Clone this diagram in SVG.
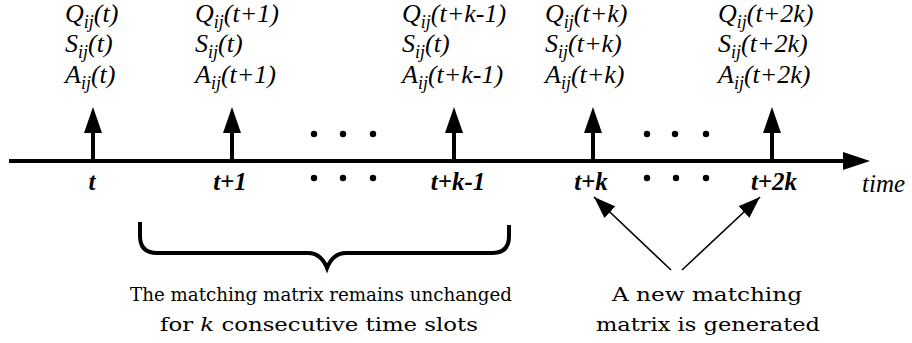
<svg xmlns="http://www.w3.org/2000/svg" width="912" height="343" viewBox="0 0 912 343">
<style>
.lab{font-family:'Liberation Serif','Tinos','Times New Roman','Times','Nimbus Roman','Nimbus Roman No9 L','FreeSerif','Noto Serif','DejaVu Serif',serif;font-style:italic;font-size:26px;fill:#000}
.sub{font-size:18px}
.tick{font-family:'Liberation Serif','Tinos','Times New Roman','Times','Nimbus Roman','FreeSerif','Noto Serif','DejaVu Serif',serif;font-style:italic;font-weight:bold;font-size:25px;fill:#000;text-anchor:middle}
.time{font-family:'Liberation Serif','Tinos','Times New Roman','Times','Nimbus Roman','FreeSerif','Noto Serif','DejaVu Serif',serif;font-style:italic;font-size:25px;fill:#000}
.note{font-family:'Century Schoolbook L','C059','New Century Schoolbook','DejaVu Serif','Noto Serif','Liberation Serif','Georgia',serif;font-size:19px;fill:#000;text-anchor:middle}
.stem{stroke:#000;stroke-width:4;fill:none}
.thin{stroke:#000;stroke-width:1.6;fill:none}
</style>
<defs>
<marker id="ah2" viewBox="0 0 22 16" refX="22" refY="8" markerWidth="22" markerHeight="16" markerUnits="userSpaceOnUse" orient="auto">
<path d="M0,0 L22,8 L0,16 Z" fill="#000"/>
</marker>
</defs>

<g id="axis">
<line class="stem" x1="9" y1="161" x2="846" y2="161"/>
<polygon points="843,152 870,161 843,170" fill="#000"/>
<text class="time" x="862" y="192">time</text>
</g>

<g id="slot-t">
<line class="stem" x1="93" y1="161" x2="93" y2="130"/>
<polygon points="84,133 93,107 102,133" fill="#000"/>
<text class="tick" x="92" y="190">t</text>
<text class="lab" x="65" y="22">Q<tspan class="sub" dy="6">ij</tspan><tspan dy="-6">(t)</tspan></text>
<text class="lab" x="65" y="52">S<tspan class="sub" dy="6">ij</tspan><tspan dy="-6">(t)</tspan></text>
<text class="lab" x="65" y="83">A<tspan class="sub" dy="6">ij</tspan><tspan dy="-6">(t)</tspan></text>
</g>

<g id="slot-t1">
<line class="stem" x1="232" y1="161" x2="232" y2="130"/>
<polygon points="223,133 232,107 241,133" fill="#000"/>
<text class="tick" x="230" y="190">t+1</text>
<text class="lab" x="195" y="22">Q<tspan class="sub" dy="6">ij</tspan><tspan dy="-6">(t+1)</tspan></text>
<text class="lab" x="195" y="52">S<tspan class="sub" dy="6">ij</tspan><tspan dy="-6">(t)</tspan></text>
<text class="lab" x="195" y="83">A<tspan class="sub" dy="6">ij</tspan><tspan dy="-6">(t+1)</tspan></text>
</g>

<g id="slot-tk1">
<line class="stem" x1="454" y1="161" x2="454" y2="130"/>
<polygon points="445,133 454,107 463,133" fill="#000"/>
<text class="tick" x="458" y="190">t+k-1</text>
<text class="lab" x="402" y="22">Q<tspan class="sub" dy="6">ij</tspan><tspan dy="-6">(t+k-1)</tspan></text>
<text class="lab" x="402" y="52">S<tspan class="sub" dy="6">ij</tspan><tspan dy="-6">(t)</tspan></text>
<text class="lab" x="402" y="83">A<tspan class="sub" dy="6">ij</tspan><tspan dy="-6">(t+k-1)</tspan></text>
</g>

<g id="slot-tk">
<line class="stem" x1="593" y1="161" x2="593" y2="130"/>
<polygon points="584,133 593,107 602,133" fill="#000"/>
<text class="tick" x="591" y="190">t+k</text>
<text class="lab" x="545" y="22">Q<tspan class="sub" dy="6">ij</tspan><tspan dy="-6">(t+k)</tspan></text>
<text class="lab" x="545" y="52">S<tspan class="sub" dy="6">ij</tspan><tspan dy="-6">(t+k)</tspan></text>
<text class="lab" x="545" y="83">A<tspan class="sub" dy="6">ij</tspan><tspan dy="-6">(t+k)</tspan></text>
</g>

<g id="slot-t2k">
<line class="stem" x1="772" y1="161" x2="772" y2="130"/>
<polygon points="763,133 772,107 781,133" fill="#000"/>
<text class="tick" x="774" y="190">t+2k</text>
<text class="lab" x="718" y="22">Q<tspan class="sub" dy="6">ij</tspan><tspan dy="-6">(t+2k)</tspan></text>
<text class="lab" x="718" y="52">S<tspan class="sub" dy="6">ij</tspan><tspan dy="-6">(t+2k)</tspan></text>
<text class="lab" x="718" y="83">A<tspan class="sub" dy="6">ij</tspan><tspan dy="-6">(t+2k)</tspan></text>
</g>

<g id="dots" fill="#000">
<circle cx="314" cy="134" r="3.2"/><circle cx="343" cy="134" r="3.2"/><circle cx="373" cy="134" r="3.2"/>
<circle cx="314" cy="178" r="3.2"/><circle cx="343" cy="178" r="3.2"/><circle cx="373" cy="178" r="3.2"/>
<circle cx="647" cy="134" r="3.2"/><circle cx="675" cy="134" r="3.2"/><circle cx="706" cy="134" r="3.2"/>
<circle cx="647" cy="178" r="3.2"/><circle cx="676" cy="178" r="3.2"/><circle cx="706" cy="178" r="3.2"/>
</g>

<g id="brace-note">
<path class="stem" d="M140,222 V236 Q140,253 157,253 H308 Q321,253 327,268 Q333,253 346,253 H492 Q509,253 509,236 V225"/>
<text class="note" x="321" y="301" textLength="382" lengthAdjust="spacingAndGlyphs">The matching matrix remains unchanged</text>
<text class="note" x="319" y="331" textLength="318" lengthAdjust="spacingAndGlyphs">for <tspan font-style="italic">k</tspan> consecutive time slots</text>
</g>

<g id="new-note">
<text class="note" x="707" y="301" textLength="190" lengthAdjust="spacingAndGlyphs">A new matching</text>
<text class="note" x="708" y="331" textLength="224" lengthAdjust="spacingAndGlyphs">matrix is generated</text>
</g>

<g id="connectors">
<line class="thin" x1="671" y1="270" x2="594" y2="197" marker-end="url(#ah2)"/>
<line class="thin" x1="682" y1="270" x2="760" y2="197" marker-end="url(#ah2)"/>
</g>
</svg>
